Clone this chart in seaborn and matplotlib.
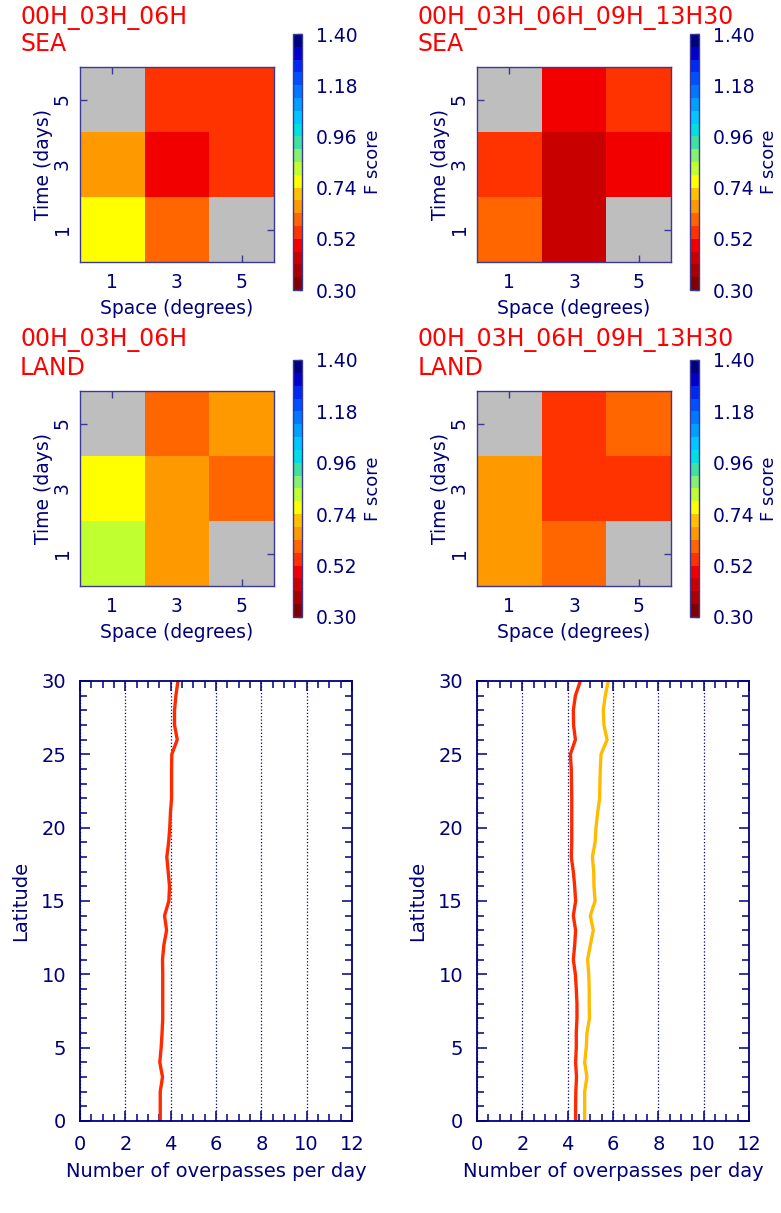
import numpy as np
import pandas as pd
import matplotlib
matplotlib.use("Agg")
import matplotlib.pyplot as plt
from matplotlib.colors import ListedColormap
from matplotlib.ticker import MultipleLocator
import seaborn as sns

sns.set_style("ticks")
plt.rcParams['font.family'] = ['DejaVu Sans']

NAVY = '#00007a'
EDGE = '#3a3a96'

# Heatmap data: rows = time (days) 1,3,5 ; columns = space (degrees) 1,3,5
space = [1, 3, 5]
time_days = [1, 3, 5]
nan = np.nan
sea_3 = [[0.77, 0.60, nan],
         [0.66, 0.49, 0.55],
         [nan, 0.55, 0.55]]
sea_5 = [[0.60, 0.44, nan],
         [0.55, 0.44, 0.49],
         [nan, 0.49, 0.55]]
land_3 = [[0.82, 0.66, nan],
          [0.77, 0.66, 0.60],
          [nan, 0.60, 0.66]]
land_5 = [[0.66, 0.60, nan],
          [0.66, 0.55, 0.55],
          [nan, 0.55, 0.60]]

cb_ticks = [0.30, 0.52, 0.74, 0.96, 1.18, 1.40]
level_colors = ['#800000', '#a80000', '#c80000', '#f20000', '#ff3300',
                '#ff6600', '#ff9900', '#ffc000', '#ffff00', '#c0ff30',
                '#88f070', '#40e0a0', '#00e0e0', '#00c8ff', '#00a0ff',
                '#0078ff', '#0050ff', '#0028f0', '#0000c8', '#000080']
cmap = ListedColormap(level_colors)

# Overpasses per day vs latitude
lat = list(range(0, 31))
over_3 = [3.54, 3.54, 3.54, 3.64, 3.52, 3.58, 3.62, 3.65, 3.65, 3.65, 3.65,
          3.64, 3.70, 3.82, 3.73, 3.92, 3.95, 3.89, 3.83, 3.91, 3.96,
          3.99, 4.04, 4.04, 4.04, 4.05, 4.29, 4.17, 4.17, 4.23, 4.32]
over_5_red = [4.35, 4.35, 4.36, 4.39, 4.35, 4.38, 4.38, 4.41, 4.41, 4.38, 4.34,
              4.25, 4.31, 4.35, 4.25, 4.35, 4.31, 4.25, 4.16, 4.18, 4.18,
              4.18, 4.18, 4.17, 4.16, 4.12, 4.34, 4.26, 4.25, 4.34, 4.56]
over_5_orange = [4.75, 4.75, 4.75, 4.85, 4.75, 4.82, 4.85, 4.96, 4.95, 4.95, 4.93,
                 4.88, 5.00, 5.13, 5.00, 5.21, 5.16, 5.15, 5.09, 5.21, 5.25,
                 5.32, 5.41, 5.42, 5.44, 5.47, 5.74, 5.60, 5.57, 5.66, 5.79]

W, H = 781, 1213
fig = plt.figure(figsize=(W / 100, H / 100), dpi=100)


def box(x0, y0, x1, y1):
    # pixel box (top-left origin) -> figure fraction rect
    return [x0 / W, 1 - y1 / H, (x1 - x0) / W, (y1 - y0) / H]


def draw_heatmap(values, ax_px, cb_px, line1, line2, title_x, title_y, label_x):
    ax = fig.add_axes(box(*ax_px))
    cax = fig.add_axes(box(*cb_px))
    df = pd.DataFrame(values, index=time_days, columns=space).iloc[::-1]
    sns.heatmap(df, ax=ax, cmap=cmap, vmin=0.30, vmax=1.40, cbar_ax=cax,
                linewidths=0, cbar_kws={'ticks': cb_ticks, 'format': '%.2f'})
    ax.set_facecolor('#bebebe')
    for s in ax.spines.values():
        s.set_visible(True)
        s.set_color(EDGE)
        s.set_linewidth(1.0)
    ax.tick_params(direction='in', length=5, width=1, color=EDGE,
                   top=True, right=True, labelsize=13.5, labelcolor=NAVY)
    ax.tick_params(axis='x', pad=8)
    ax.tick_params(axis='y', pad=6)
    ax.set_yticklabels(ax.get_yticklabels(), rotation=90, va='center')
    ax.set_xticklabels(ax.get_xticklabels(), rotation=0)
    ax.set_xlabel('Space (degrees)', color=NAVY, fontsize=13.5, labelpad=5)
    ax.set_ylabel('Time (days)', color=NAVY, fontsize=13.5, labelpad=0)
    cb = ax.collections[0].colorbar
    cb.outline.set_linewidth(1.0)
    cb.outline.set_edgecolor(EDGE)
    cax.tick_params(direction='in', length=3, width=1, color=EDGE,
                    labelsize=13.5, labelcolor=NAVY, pad=10)
    # colorbar title, placed in pixels like the original
    mid_y = (cb_px[1] + cb_px[3]) / 2
    fig.text(label_x / W, 1 - mid_y / H, 'F score', color=NAVY, fontsize=13,
             rotation=90, ha='center', va='center')
    fig.text(title_x / W, 1 - title_y[0] / H, line1, color='#ff0000',
             fontsize=17, va='center', ha='left')
    fig.text(title_x / W, 1 - title_y[1] / H, line2, color='#ff0000',
             fontsize=17, va='center', ha='left')


draw_heatmap(sea_3, (80, 67, 274, 262), (293, 34, 302, 290),
             '00H_03H_06H', 'SEA', 20, (18, 44), 373)
draw_heatmap(sea_5, (477, 67, 671, 262), (690, 34, 699, 290),
             '00H_03H_06H_09H_13H30', 'SEA', 418, (18, 44), 769)
draw_heatmap(land_3, (80, 391, 274, 586), (293, 360, 302, 617),
             '00H_03H_06H', 'LAND', 20, (340, 368), 373)
draw_heatmap(land_5, (477, 391, 671, 586), (690, 360, 699, 617),
             '00H_03H_06H_09H_13H30', 'LAND', 418, (340, 368), 769)


def draw_lines(ax_px, series):
    ax = fig.add_axes(box(*ax_px))
    for xs, col in series:
        sns.lineplot(x=xs, y=lat, ax=ax, color=col, linewidth=2.4,
                     sort=False, estimator=None)
    ax.set_xlim(0, 12)
    ax.set_ylim(0, 30)
    ax.xaxis.set_major_locator(MultipleLocator(2))
    ax.xaxis.set_minor_locator(MultipleLocator(0.5))
    ax.yaxis.set_major_locator(MultipleLocator(5))
    ax.yaxis.set_minor_locator(MultipleLocator(1))
    ax.grid(axis='x', which='major', linestyle=':', color=NAVY, linewidth=0.9)
    for s in ax.spines.values():
        s.set_visible(True)
        s.set_color(NAVY)
        s.set_linewidth(1.3)
    ax.tick_params(which='both', direction='in', top=True, right=True,
                   color=NAVY, width=1.1)
    ax.tick_params(which='major', length=7, labelsize=14, labelcolor=NAVY,
                   pad=10)
    ax.tick_params(which='minor', length=5)
    ax.set_xlabel('Number of overpasses per day', color=NAVY, fontsize=14,
                  labelpad=6)
    ax.set_ylabel('Latitude', color=NAVY, fontsize=14, labelpad=8)


draw_lines((80, 681, 352, 1121), [(over_3, '#ff2a00')])
draw_lines((477, 681, 749, 1121), [(over_5_red, '#ff2a00'),
                                   (over_5_orange, '#ffbb00')])

fig.savefig('out.png', dpi=100)
